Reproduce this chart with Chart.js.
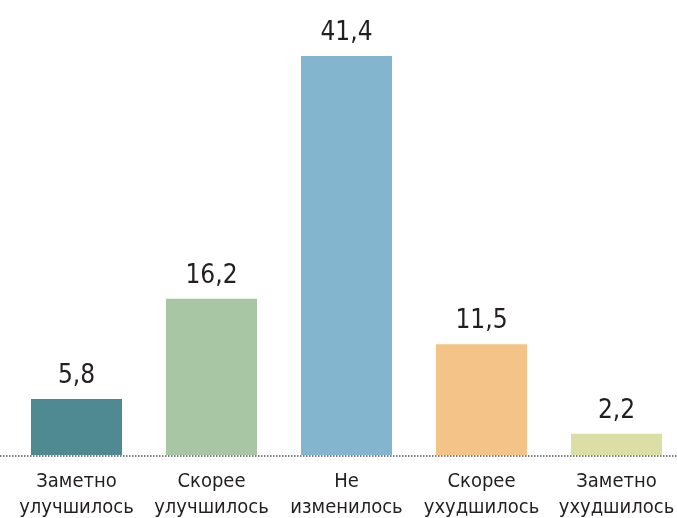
<!DOCTYPE html>
<html>
<head>
<meta charset="utf-8">
<script src="https://cdn.jsdelivr.net/npm/chart.js@4"></script>
<style>
  html, body { margin: 0; padding: 0; background: #fff; overflow: hidden; }
  #wrap { position: relative; width: 693px; height: 527px; }
</style>
</head>
<body>
<div id="wrap"><canvas id="chart"></canvas></div>
<script>
// Данные
const categories = [
  ["Заметно", "улучшилось"],
  ["Скорее", "улучшилось"],
  ["Не", "изменилось"],
  ["Скорее", "ухудшилось"],
  ["Заметно", "ухудшилось"]
];
const values = [5.8, 16.2, 41.4, 11.5, 2.2];
const barColors = ["#4f8992", "#a8c5a4", "#84b5cf", "#f3c388", "#dbdfa6"];

const FONT = "'Liberation Sans Narrow', 'DejaVu Sans Condensed', sans-serif";
const TEXT = "#231f20";

// подписи значений над столбцами
const valueLabels = {
  id: "valueLabels",
  afterDatasetsDraw(chart) {
    const ctx = chart.ctx;
    const meta = chart.getDatasetMeta(0);
    ctx.save();
    ctx.fillStyle = TEXT;
    ctx.font = "26px " + FONT;
    ctx.textAlign = "center";
    ctx.textBaseline = "alphabetic";
    meta.data.forEach(function (bar, i) {
      ctx.fillText(values[i].toFixed(1).replace(".", ","), bar.x, bar.y - 16);
    });
    ctx.restore();
  }
};

// пунктирная базовая линия на всю ширину
const baseLine = {
  id: "baseLine",
  afterDatasetsDraw(chart) {
    const ctx = chart.ctx;
    const y = chart.scales.y.getPixelForValue(0) + 1;
    ctx.save();
    ctx.strokeStyle = "#555";
    ctx.lineWidth = 1.5;
    ctx.setLineDash([1.5, 1.5]);
    ctx.beginPath();
    ctx.moveTo(0, y);
    ctx.lineTo(chart.width, y);
    ctx.stroke();
    ctx.restore();
  }
};

new Chart(document.getElementById("chart"), {
  type: "bar",
  data: {
    labels: categories,
    datasets: [{
      data: values,
      backgroundColor: barColors,
      barPercentage: 0.674,
      categoryPercentage: 1
    }]
  },
  options: {
    responsive: true,
    maintainAspectRatio: false,
    animation: false,
    layout: { padding: { left: 9, right: 9, top: 0, bottom: 0 } },
    plugins: {
      legend: { display: false },
      tooltip: { enabled: false }
    },
    scales: {
      x: {
        grid: { display: false },
        border: { display: false },
        ticks: {
          color: TEXT,
          font: { family: FONT, size: 20, lineHeight: 1.3 },
          padding: 6,
          maxRotation: 0
        }
      },
      y: {
        display: false,
        min: 0,
        max: 47.2
      }
    }
  },
  plugins: [valueLabels, baseLine]
});
</script>
</body>
</html>
